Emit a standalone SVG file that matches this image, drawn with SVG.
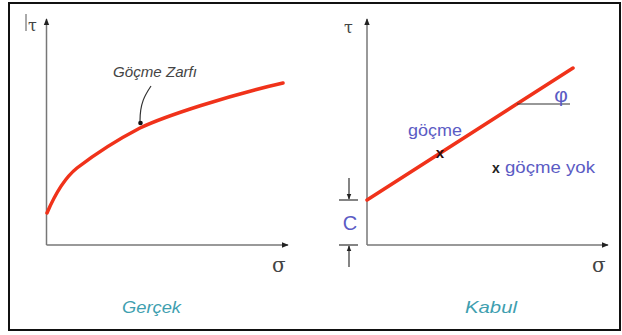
<svg xmlns="http://www.w3.org/2000/svg" width="622" height="335" viewBox="0 0 622 335">
<defs>
<style>
.axis{stroke:#777;stroke-width:1.5;fill:none}
.env{stroke:#f0321a;stroke-width:3.5;fill:none;stroke-linecap:round}
.thin{stroke:#333;stroke-width:1.2;fill:none}
.sym{font-family:"DejaVu Serif","Liberation Serif",serif;fill:#444}
.lbl{font-family:"Liberation Sans",Arial,sans-serif;font-style:italic;fill:#3f9fb0}
.blue{font-family:"Liberation Sans",Arial,sans-serif;fill:#5b5bc4}
</style>
<marker id="ah" viewBox="0 0 10 10" refX="9" refY="5" markerWidth="7" markerHeight="7" orient="auto" markerUnits="userSpaceOnUse">
<path d="M0,1 L10,5 L0,9 Z" fill="#222"/>
</marker>
<marker id="ah2" viewBox="0 0 10 10" refX="9" refY="5" markerWidth="6" markerHeight="6" orient="auto" markerUnits="userSpaceOnUse">
<path d="M0,1 L10,5 L0,9 Z" fill="#222"/>
</marker>
</defs>
<rect x="0" y="0" width="622" height="335" fill="#fff"/>
<rect x="9" y="3" width="611" height="327" fill="none" stroke="#111" stroke-width="2"/>

<g id="left-panel">
<g id="left-axes">
<line class="axis" x1="46.5" y1="245" x2="46.5" y2="19" marker-end="url(#ah)"/>
<line class="axis" x1="46.5" y1="245" x2="288" y2="245" marker-end="url(#ah)"/>
<line x1="26" y1="14" x2="26" y2="31" stroke="#555" stroke-width="1"/>
<text class="sym" x="28" y="31" font-size="16">τ</text>
<text class="sym" x="272" y="272" font-size="20">σ</text>
</g>
<g id="gocme-zarfi">
<path class="env" d="M47,213 C53,199 62,180 77,168 C90,158 115,141 140,128 C165,116 230,95 283,83"/>
<path class="thin" d="M151,86 C145,95 140,103 140,121"/>
<circle cx="140.5" cy="123" r="2.3" fill="#111"/>
<text x="113" y="77" font-family="Liberation Sans,Arial,sans-serif" font-style="italic" font-size="15" fill="#444" textLength="84" lengthAdjust="spacingAndGlyphs">Göçme Zarfı</text>
</g>
<text id="gercek" class="lbl" x="122" y="313" font-size="17" textLength="59" lengthAdjust="spacingAndGlyphs">Gerçek</text>
</g>

<g id="right-panel">
<g id="right-axes">
<line class="axis" x1="367" y1="245" x2="367" y2="19" marker-end="url(#ah)"/>
<line class="axis" x1="367" y1="245" x2="608" y2="245" marker-end="url(#ah)"/>
<text class="sym" x="344" y="33" font-size="16">τ</text>
<text class="sym" x="592" y="272" font-size="20">σ</text>
</g>
<g id="kabul-line">
<line class="env" x1="367" y1="200" x2="573" y2="68"/>
<line class="thin" x1="517" y1="104" x2="570" y2="104"/>
<text x="561" y="102" font-size="21" text-anchor="middle" font-family="Liberation Sans,Arial,sans-serif" fill="#5b5bc4">φ</text>
</g>
<g id="gocme-point">
<text class="blue" x="408" y="136" font-size="16" textLength="54" lengthAdjust="spacingAndGlyphs">göçme</text>
<text x="440" y="158" font-family="Liberation Sans,Arial,sans-serif" font-weight="bold" font-size="15" fill="#2a0c0c" text-anchor="middle">x</text>
</g>
<g id="gocme-yok">
<text x="492" y="173" font-family="Liberation Sans,Arial,sans-serif" font-weight="bold" font-size="14" fill="#222">x</text>
<text class="blue" x="505" y="173" font-size="16" textLength="90" lengthAdjust="spacingAndGlyphs">göçme yok</text>
</g>
<g id="c-dimension">
<line class="thin" x1="339" y1="200" x2="358" y2="200"/>
<line class="thin" x1="339" y1="245" x2="358" y2="245"/>
<line class="thin" x1="349" y1="178" x2="349" y2="199" marker-end="url(#ah2)"/>
<line class="thin" x1="349" y1="267" x2="349" y2="246" marker-end="url(#ah2)"/>
<text class="blue" x="350" y="230" font-size="20" text-anchor="middle">C</text>
</g>
<text id="kabul" class="lbl" x="465" y="313" font-size="17" textLength="52" lengthAdjust="spacingAndGlyphs">Kabul</text>
</g>
</svg>
